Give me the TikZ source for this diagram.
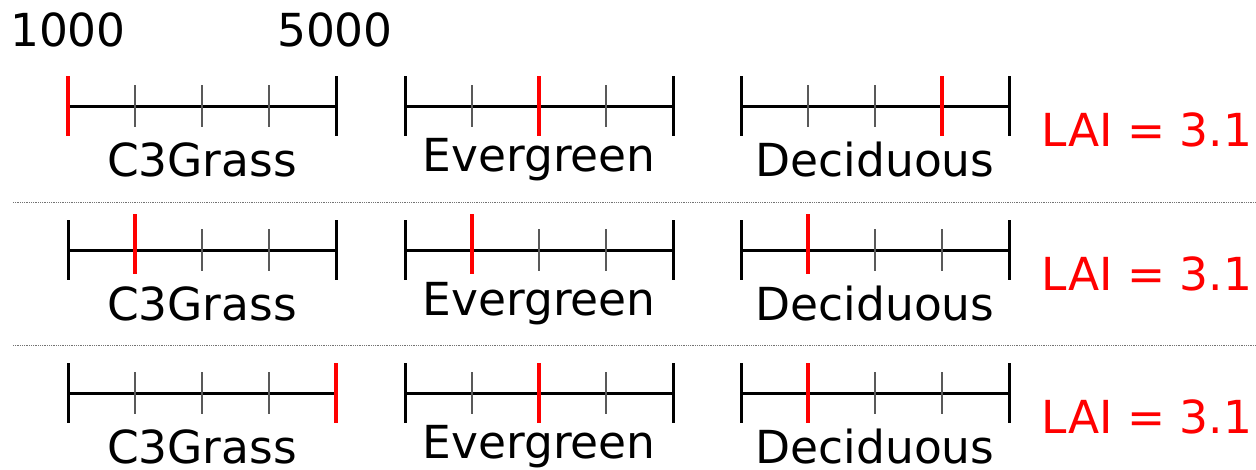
\documentclass[tikz,border=0pt]{standalone}
\usepackage{fontspec}
\setmainfont{DejaVu Sans}
\begin{document}
\begin{tikzpicture}[x=1pt,y=-1pt,
  axisline/.style={line width=3pt,black},
  endtick/.style={line width=3pt,black},
  minortick/.style={line width=1.6pt,black!65},
  marker/.style={line width=4pt,red},
  lbl/.style={font=\fontsize{45.5}{54}\selectfont,inner sep=0pt},
  lai/.style={lbl,text=red},
  sep/.style={densely dotted,line width=0.8pt,black!55}]
\useasboundingbox (0,0) rectangle (1256,469);
% top values
\node[lbl] (v1000) at (68,30) {1000};
\node[lbl] (v5000) at (335,30) {5000};
% scales: row y, markers
\foreach \row/\y/\ma/\mb/\mc/\up in {1/106/68/539/942/0, 2/250/135/472/808/6, 3/393/336/539/808/0}{
  \foreach \sx/\name/\m in {68/C3Grass/\ma, 405/Evergreen/\mb, 741/Deciduous/\mc}{
    \draw[axisline] (\sx,\y) -- ++(268,0);
    \foreach \k in {1,2,3}{\draw[minortick] (\sx+67*\k,\y-21) -- (\sx+67*\k,\y+21);}
    \draw[endtick] (\sx,\y-30) -- (\sx,\y+30);
    \draw[endtick] (\sx+268,\y-30) -- (\sx+268,\y+30);
    \draw[marker] (\m,\y-30-\up) -- (\m,\y+30-\up);
    \node[lbl] (\name-\row) at (\sx+134,\y+54) {\name};
  }
  \node[lai] (lai-\row) at (1147,\y+24) {LAI = 3.1};
}
\draw[sep] (13,202) -- (1256,202);
\draw[sep] (13,345) -- (1256,345);
\end{tikzpicture}
\end{document}
